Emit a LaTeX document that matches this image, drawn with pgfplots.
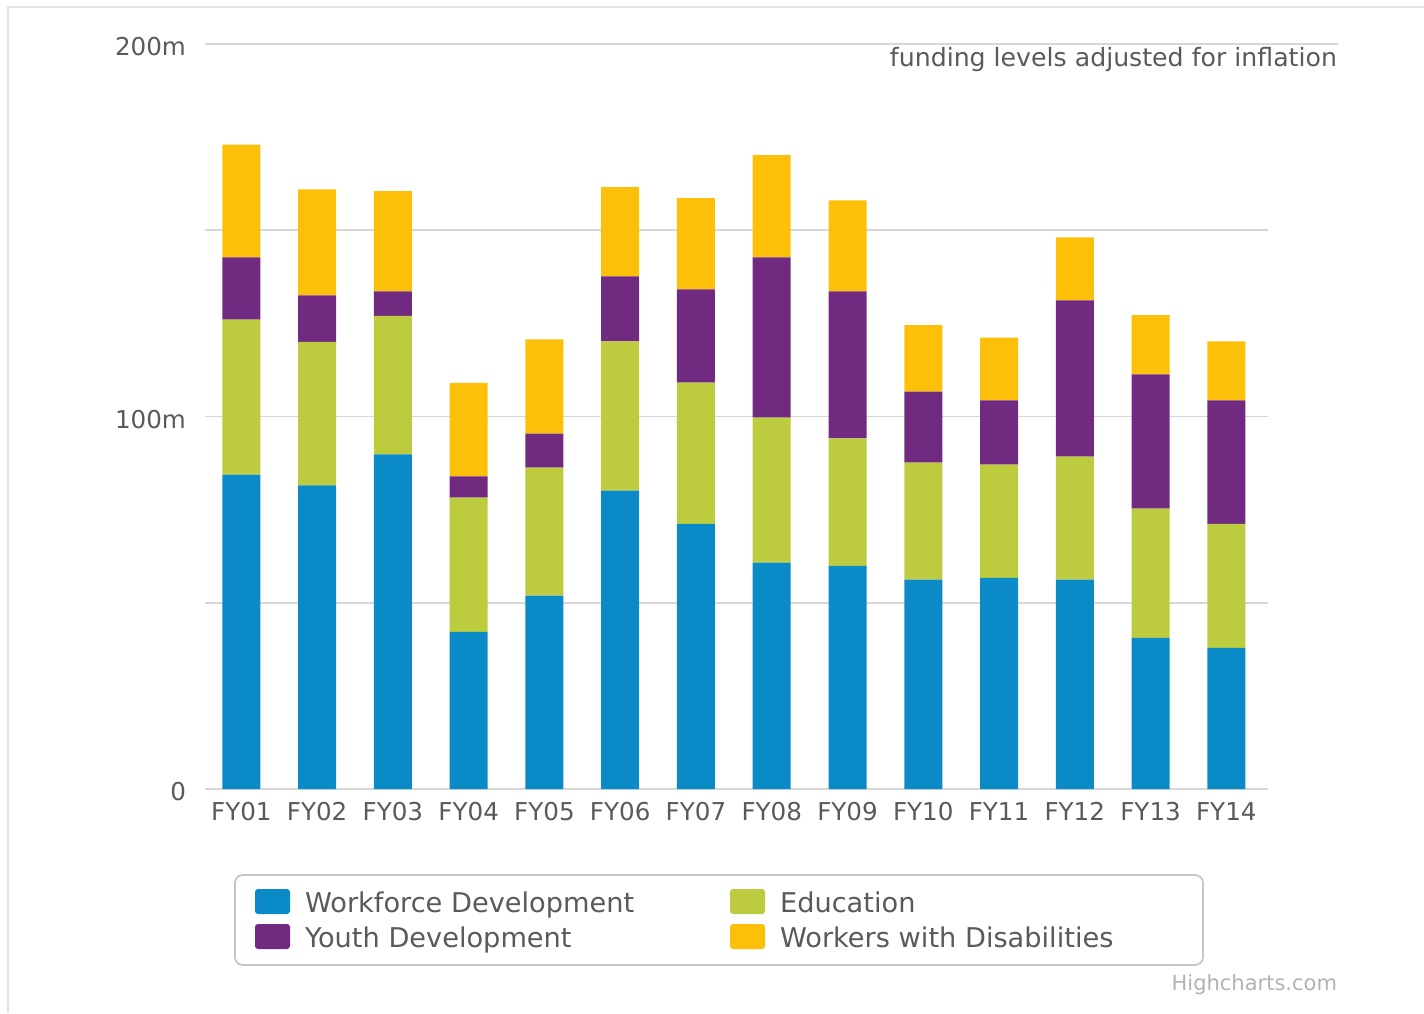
\documentclass[border=0pt]{standalone}
\usepackage{pgfplots}
\pgfplotsset{compat=1.18}
\usepackage{fontspec}
\setmainfont{DejaVu Sans}
\definecolor{cWD}{RGB}{10,138,198}
\definecolor{cED}{RGB}{188,204,62}
\definecolor{cYD}{RGB}{112,42,128}
\definecolor{cWX}{RGB}{252,192,8}
\definecolor{txt}{RGB}{90,90,90}
\definecolor{gridc}{RGB}{215,215,215}
\pgfplotstableread{
x WD ED YD WX
0 84.4 41.6 16.7 30.3
1 81.5 38.5 12.5 28.5
2 89.8 37.2 6.6 26.9
3 42.2 36.0 5.7 25.1
4 51.9 34.4 9.1 25.3
5 80.1 40.1 17.4 24.0
6 71.2 37.9 25.0 24.5
7 60.8 38.9 43.0 27.5
8 59.9 34.2 39.5 24.4
9 56.2 31.4 19.1 17.8
10 56.7 30.4 17.2 16.9
11 56.2 33.0 42.0 16.9
12 40.6 34.7 36.0 15.9
13 37.9 33.3 33.1 15.9
}\datatable
\begin{document}
\begin{tikzpicture}
\path[use as bounding box] (0pt,0pt) rectangle (712pt,506.5pt);
\draw[gridc!70!white,line width=0.8pt] (4pt,0pt) -- (4pt,503pt) -- (712pt,503pt);
\begin{axis}[
  at={(102.5pt,112pt)}, anchor=south west,
  scale only axis, width=531.5pt, height=372.5pt,
  ybar stacked, bar width=19pt,
  xmin=-0.48, xmax=13.55, ymin=0, ymax=200,
  axis line style={draw=none},
  tick style={draw=none},
  xtick=data,
  xticklabels={FY01,FY02,FY03,FY04,FY05,FY06,FY07,FY08,FY09,FY10,FY11,FY12,FY13,FY14},
  ytick={0,50,100,150,200},
  yticklabels={0,,100m,,200m},
  ymajorgrids, xmajorgrids=false, grid style={gridc,line width=0.8pt},
  ticklabel style={font=\fontsize{12.3}{13}\selectfont, text=txt},
  xticklabel style={yshift=-3pt},
  yticklabel style={xshift=-6pt, yshift=-1.5pt},
  /pgf/number format/assume math mode=true,
  clip=false,
]
\addplot[fill=cWD, draw=none] table[x=x,y=WD]{\datatable};
\addplot[fill=cED, draw=none] table[x=x,y=ED]{\datatable};
\addplot[fill=cYD, draw=none] table[x=x,y=YD]{\datatable};
\addplot[fill=cWX, draw=none] table[x=x,y=WX]{\datatable};
\end{axis}
\draw[gridc,line width=0.8pt] (634pt,484.5pt) -- (669pt,484.5pt);
\node[anchor=base east, text=txt, font=\fontsize{12.6}{13}\selectfont] at (672pt,473pt) {funding levels adjusted for inflation};
% legend
\draw[rounded corners=4pt, draw=gray!45, line width=0.9pt, fill=white] (117.5pt,24pt) rectangle (601.5pt,69pt);
\fill[cWD, rounded corners=1.5pt] (127.5pt,49.5pt) rectangle (145pt,62pt);
\node[anchor=base west, text=txt, font=\fontsize{13.6}{14}\selectfont] at (149pt,50.5pt) {Workforce Development};
\fill[cYD, rounded corners=1.5pt] (127.5pt,32pt) rectangle (145pt,44.5pt);
\node[anchor=base west, text=txt, font=\fontsize{13.6}{14}\selectfont] at (149pt,33pt) {Youth Development};
\fill[cED, rounded corners=1.5pt] (365pt,49.5pt) rectangle (382.5pt,62pt);
\node[anchor=base west, text=txt, font=\fontsize{13.6}{14}\selectfont] at (386.5pt,50.5pt) {Education};
\fill[cWX, rounded corners=1.5pt] (365pt,32pt) rectangle (382.5pt,44.5pt);
\node[anchor=base west, text=txt, font=\fontsize{13.6}{14}\selectfont] at (386.5pt,33pt) {Workers with Disabilities};
\node[anchor=base east, text=gray!60, font=\fontsize{10.5}{11}\selectfont] at (672pt,11.5pt) {Highcharts.com};
\end{tikzpicture}
\end{document}
